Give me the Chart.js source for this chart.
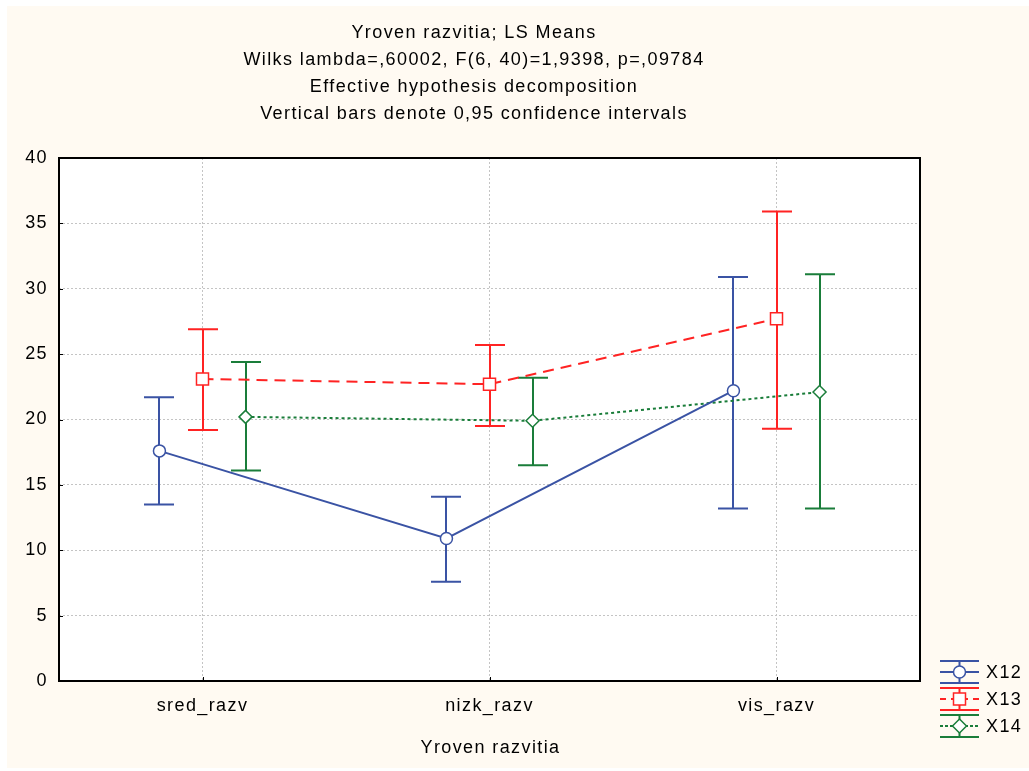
<!DOCTYPE html>
<html>
<head>
<meta charset="utf-8">
<script src="https://cdn.jsdelivr.net/npm/chart.js@4.4.1/dist/chart.umd.min.js"></script>
<style>
  html, body { margin: 0; padding: 0; background: #ffffff; }
  #wrap { width: 1029px; height: 771px; }
</style>
</head>
<body>
<div id="wrap"><canvas id="lsMeans" width="1029" height="771"></canvas></div>
<script>
// chart data
const categories = ["sred_razv", "nizk_razv", "vis_razv"];
const seriesNames = ["X12", "X13", "X14"];

// LS means per series
const meansX12 = [17.6, 10.9, 22.2];
const meansX13 = [23.1, 22.7, 27.7];
const meansX14 = [20.2, 19.9, 22.1];

// 0,95 confidence interval limits
const lowX12 = [13.5, 7.6, 13.2];
const highX12 = [21.7, 14.1, 30.9];
const lowX13 = [19.2, 19.5, 19.3];
const highX13 = [26.9, 25.7, 35.9];
const lowX14 = [16.1, 16.5, 13.2];
const highX14 = [24.4, 23.2, 31.1];

const yTicks = [0, 5, 10, 15, 20, 25, 30, 35, 40];

const titleLines = [
  "Yroven razvitia; LS Means",
  "Wilks lambda=,60002, F(6, 40)=1,9398, p=,09784",
  "Effective hypothesis decomposition",
  "Vertical bars denote 0,95 confidence intervals"
];
const xAxisTitle = "Yroven razvitia";

const FONT = "Arial, 'Liberation Sans', sans-serif";
const FONT_SIZE = 18;
const SPACING = "1.4px";
const BLUE = "#3a53a4";
const RED = "#ff2323";
const GREEN = "#1a7d3a";

// small shift so the three series sit side by side
const offsets = [-0.15, 0, 0.15];

function makePoints(means, low, high, shift) {
  return means.map(function (m, i) {
    return { x: i + 0.5 + shift, y: m, low: low[i], high: high[i] };
  });
}

const datasets = [
  {
    label: seriesNames[0],
    data: makePoints(meansX12, lowX12, highX12, offsets[0]),
    borderColor: BLUE,
    borderWidth: 2,
    pointStyle: "circle",
    pointRadius: 6,
    pointBackgroundColor: "#ffffff",
    pointBorderColor: BLUE,
    pointBorderWidth: 1.5,
    showLine: true,
    tension: 0
  },
  {
    label: seriesNames[1],
    data: makePoints(meansX13, lowX13, highX13, offsets[1]),
    borderColor: RED,
    borderWidth: 2,
    borderDash: [11, 7],
    pointStyle: "rect",
    pointRadius: 8.5,
    pointBackgroundColor: "#ffffff",
    pointBorderColor: RED,
    pointBorderWidth: 1.5,
    showLine: true,
    tension: 0
  },
  {
    label: seriesNames[2],
    data: makePoints(meansX14, lowX14, highX14, offsets[2]),
    borderColor: GREEN,
    borderWidth: 2,
    borderDash: [3, 3],
    pointStyle: "rectRot",
    pointRadius: 6.5,
    pointBackgroundColor: "#ffffff",
    pointBorderColor: GREEN,
    pointBorderWidth: 1.5,
    showLine: true,
    tension: 0
  }
];

// background, cream page and white plot area
const backgroundPlugin = {
  id: "background",
  beforeDraw(chart) {
    const ctx = chart.ctx;
    const a = chart.chartArea;
    ctx.save();
    ctx.fillStyle = "#ffffff";
    ctx.fillRect(0, 0, chart.width, chart.height);
    ctx.fillStyle = "#fffaf2";
    ctx.fillRect(7, 6, chart.width - 7, chart.height - 9);
    ctx.fillStyle = "#ffffff";
    ctx.fillRect(a.left, a.top, a.right - a.left, a.bottom - a.top);
    ctx.restore();
    // wider letter spacing like the original renderer, kept for tick labels too
    ctx.letterSpacing = SPACING;
  }
};

// vertical confidence bars, drawn under the lines and markers
const errorBarPlugin = {
  id: "errorBars",
  beforeDatasetsDraw(chart) {
    const ctx = chart.ctx;
    const xs = chart.scales.x;
    const ys = chart.scales.y;
    ctx.save();
    chart.data.datasets.forEach(function (ds) {
      ctx.strokeStyle = ds.borderColor;
      ctx.lineWidth = 2;
      ctx.setLineDash([]);
      ds.data.forEach(function (p) {
        const x = Math.round(xs.getPixelForValue(p.x));
        const yLow = ys.getPixelForValue(p.low);
        const yHigh = ys.getPixelForValue(p.high);
        ctx.beginPath();
        ctx.moveTo(x, yLow);
        ctx.lineTo(x, yHigh);
        ctx.moveTo(x - 15, yLow);
        ctx.lineTo(x + 15, yLow);
        ctx.moveTo(x - 15, yHigh);
        ctx.lineTo(x + 15, yHigh);
        ctx.stroke();
      });
    });
    ctx.restore();
  }
};

// frame, titles and legend
const decorPlugin = {
  id: "decor",
  afterDraw(chart) {
    const ctx = chart.ctx;
    const a = chart.chartArea;
    ctx.save();

    // plot frame
    ctx.strokeStyle = "#000000";
    ctx.lineWidth = 2;
    ctx.setLineDash([]);
    ctx.strokeRect(a.left, a.top, a.right - a.left, a.bottom - a.top);

    // small tick marks
    ctx.lineWidth = 1;
    ctx.beginPath();
    chart.scales.x.ticks.forEach(function (t) {
      const x = Math.round(chart.scales.x.getPixelForValue(t.value)) + 0.5;
      ctx.moveTo(x, a.bottom);
      ctx.lineTo(x, a.bottom - 4);
    });
    chart.scales.y.ticks.forEach(function (t) {
      const y = Math.round(chart.scales.y.getPixelForValue(t.value)) + 0.5;
      ctx.moveTo(a.left, y);
      ctx.lineTo(a.left + 4, y);
    });
    ctx.stroke();

    // title lines
    ctx.letterSpacing = SPACING;
    ctx.fillStyle = "#000000";
    ctx.font = FONT_SIZE + "px " + FONT;
    ctx.textAlign = "center";
    ctx.textBaseline = "middle";
    titleLines.forEach(function (line, i) {
      ctx.fillText(line, 474, 33 + i * 27);
    });

    // x axis title
    ctx.fillText(xAxisTitle, (a.left + a.right) / 2 + 1, 748);

    // legend
    const colors = [BLUE, RED, GREEN];
    const dashes = [[], [6, 5], [3, 2]];
    const lx = 940, lw = 39;
    const centers = [672, 699, 726];
    chart.data.datasets.forEach(function (ds, i) {
      const cy = centers[i];
      const mid = lx + lw / 2;
      ctx.strokeStyle = colors[i];
      ctx.lineWidth = 2;
      ctx.setLineDash([]);
      ctx.beginPath();
      ctx.moveTo(lx, cy - 11);
      ctx.lineTo(lx + lw, cy - 11);
      ctx.moveTo(lx, cy + 11);
      ctx.lineTo(lx + lw, cy + 11);
      ctx.moveTo(mid, cy - 11);
      ctx.lineTo(mid, cy + 11);
      ctx.stroke();
      ctx.setLineDash(dashes[i]);
      ctx.beginPath();
      ctx.moveTo(lx, cy);
      ctx.lineTo(lx + lw, cy);
      ctx.stroke();
      ctx.setLineDash([]);
      ctx.fillStyle = "#ffffff";
      ctx.lineWidth = 1.5;
      ctx.beginPath();
      if (i === 0) {
        ctx.arc(mid, cy, 6, 0, Math.PI * 2);
      } else if (i === 1) {
        ctx.rect(mid - 6, cy - 6, 12, 12);
      } else {
        ctx.moveTo(mid, cy - 7);
        ctx.lineTo(mid + 7, cy);
        ctx.lineTo(mid, cy + 7);
        ctx.lineTo(mid - 7, cy);
        ctx.closePath();
      }
      ctx.fill();
      ctx.stroke();
      ctx.fillStyle = "#000000";
      ctx.textAlign = "left";
      ctx.font = FONT_SIZE + "px " + FONT;
      ctx.fillText(ds.label, lx + lw + 7, cy + 1);
    });

    ctx.restore();
  }
};

const config = {
  type: "scatter",
  data: { datasets: datasets },
  options: {
    responsive: false,
    animation: false,
    layout: { padding: { top: 158, right: 109, bottom: 0, left: 0 } },
    plugins: {
      legend: { display: false },
      title: { display: false },
      tooltip: { enabled: false }
    },
    scales: {
      x: {
        type: "linear",
        min: 0,
        max: 3,
        afterBuildTicks(scale) {
          scale.ticks = categories.map(function (c, i) { return { value: i + 0.5 }; });
        },
        afterFit(scale) { scale.height = 90; },
        ticks: {
          color: "#000000",
          font: { family: FONT, size: FONT_SIZE },
          padding: 14,
          maxRotation: 0,
          callback: function (value) {
            return categories[Math.floor(value)];
          }
        },
        grid: { color: "#c4c4c4", lineWidth: 1, drawTicks: false },
        border: { display: false, dash: [2, 2] }
      },
      y: {
        min: 0,
        max: 40,
        afterBuildTicks(scale) {
          scale.ticks = yTicks.map(function (v) { return { value: v }; });
        },
        afterFit(scale) { scale.width = 59; },
        ticks: {
          color: "#000000",
          font: { family: FONT, size: FONT_SIZE },
          padding: 11
        },
        grid: { color: "#c4c4c4", lineWidth: 1, drawTicks: false },
        border: { display: false, dash: [2, 2] }
      }
    }
  },
  plugins: [backgroundPlugin, errorBarPlugin, decorPlugin]
};

const myChart = new Chart(document.getElementById("lsMeans").getContext("2d"), config);
</script>
</body>
</html>
